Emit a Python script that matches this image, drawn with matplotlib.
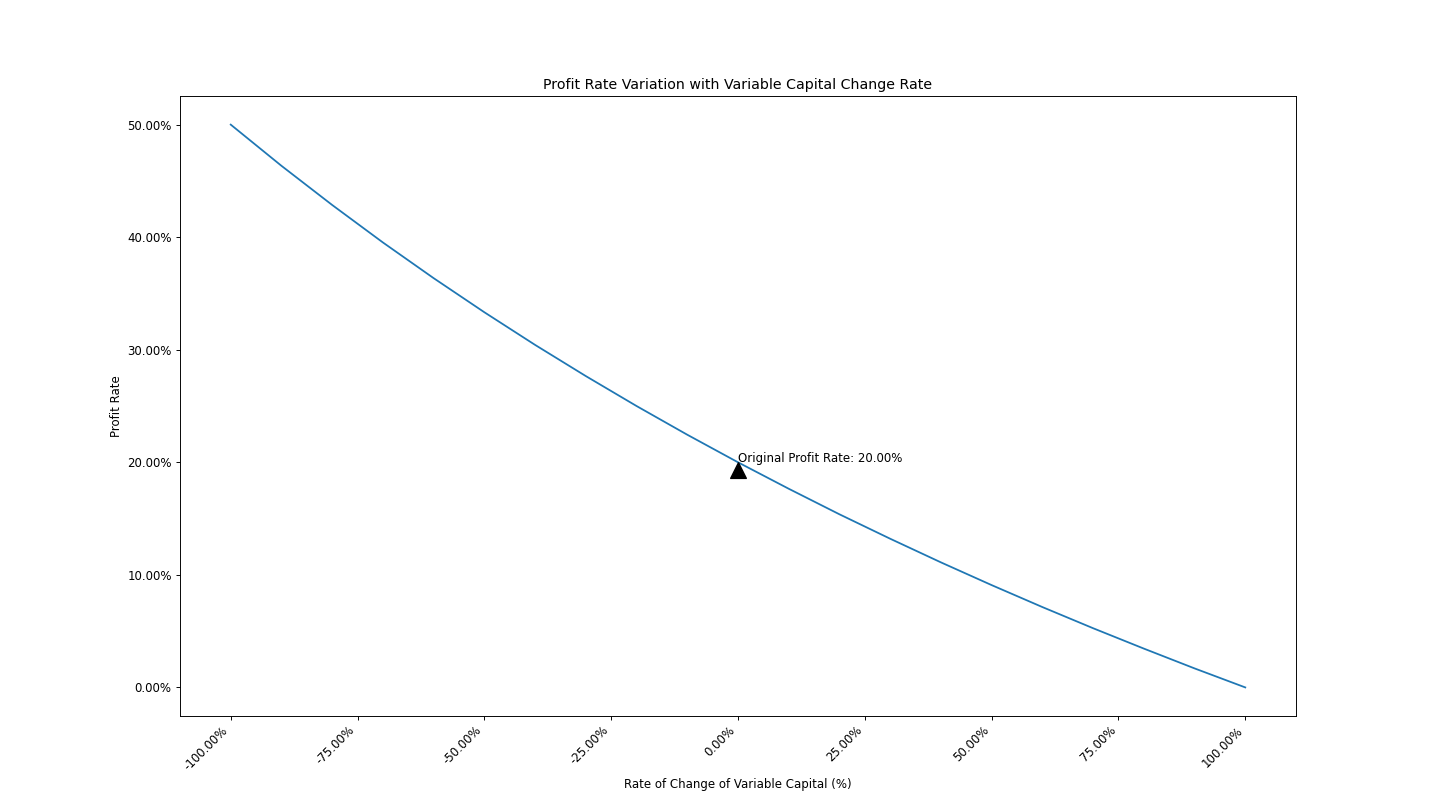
"""Profit rate as variable capital changes."""

import matplotlib

matplotlib.use("Agg")
import matplotlib.pyplot as plt
import matplotlib.transforms as mtransforms
from matplotlib.ticker import FuncFormatter, MultipleLocator

# Rate of change of variable capital (fraction) and resulting profit rate
change_rate = [
    -1.0, -0.9, -0.8, -0.7, -0.6, -0.5, -0.4, -0.3, -0.2, -0.1, 0.0,
    0.1, 0.2, 0.3, 0.4, 0.5, 0.6, 0.7, 0.8, 0.9, 1.0,
]
profit_rate = [
    0.5000, 0.4634, 0.4286, 0.3953, 0.3636, 0.3333, 0.3043, 0.2766, 0.2500, 0.2245, 0.2000,
    0.1765, 0.1538, 0.1321, 0.1111, 0.0909, 0.0714, 0.0526, 0.0345, 0.0169, 0.0000,
]
original_change = 0.0
original_profit = 0.20

DPI = 85


def pct(v, _pos):
    return f"{v * 100:.2f}%"


def main() -> None:
    fig, ax = plt.subplots(figsize=(1440 / DPI, 804 / DPI), dpi=DPI)
    ax.plot(change_rate, profit_rate, color="#1f77b4", linewidth=1.5)

    # Triangle marker with its tip on the original profit rate (like an arrow head)
    ms = 13
    marker_tr = mtransforms.offset_copy(ax.transData, fig=fig, x=0, y=-ms / 2, units="points")
    ax.plot(original_change, original_profit, marker="^", color="black",
            markersize=ms, transform=marker_tr, linestyle="none")
    ax.text(original_change, original_profit,
            f"Original Profit Rate: {original_profit * 100:.2f}%", fontsize=10)

    ax.xaxis.set_major_locator(MultipleLocator(0.25))
    ax.yaxis.set_major_locator(MultipleLocator(0.10))
    ax.xaxis.set_major_formatter(FuncFormatter(pct))
    ax.yaxis.set_major_formatter(FuncFormatter(pct))
    plt.setp(ax.get_xticklabels(), rotation=45, ha="right")

    ax.set_title("Profit Rate Variation with Variable Capital Change Rate")
    ax.set_xlabel("Rate of Change of Variable Capital (%)")
    ax.set_ylabel("Profit Rate")

    fig.savefig("out.png", dpi=DPI)


if __name__ == "__main__":
    main()
